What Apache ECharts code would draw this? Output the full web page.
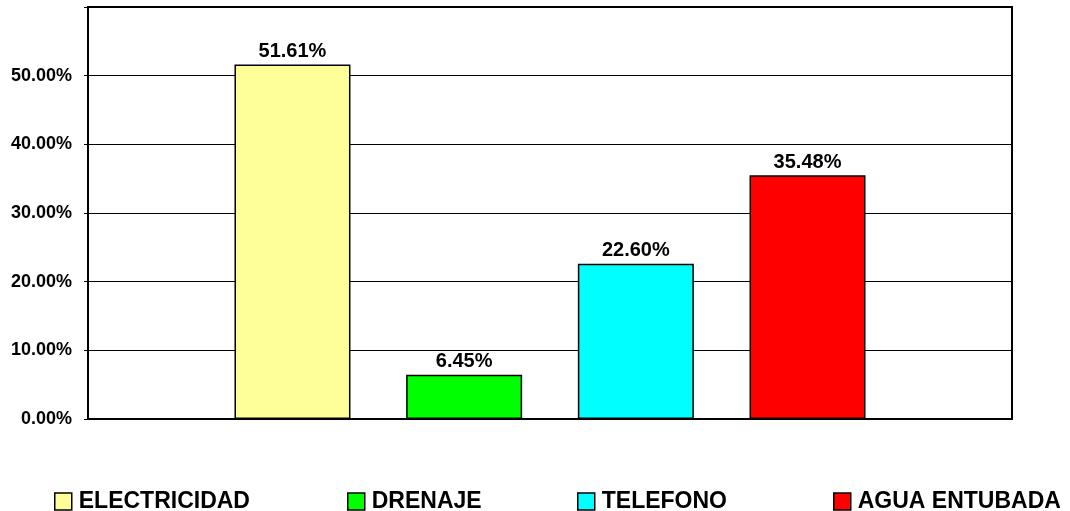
<!DOCTYPE html>
<html>
<head>
<meta charset="utf-8">
<script src="https://cdn.jsdelivr.net/npm/echarts@6/dist/echarts.min.js"></script>
<style>
  html, body { margin: 0; padding: 0; background: #fff; }
  #chart { width: 1070px; height: 511px; }
</style>
</head>
<body>
<div id="chart"></div>
<script>
const names = ["ELECTRICIDAD", "DRENAJE", "TELEFONO", "AGUA ENTUBADA"];
const values = [0.5161, 0.0645, 0.2260, 0.3548];
const colors = ["#FFFF99", "#00FF00", "#00FFFF", "#FF0000"];
const legendLeft = [54, 347, 577, 833];

const font = "Arial, 'Liberation Sans', sans-serif";
const chart = echarts.init(document.getElementById("chart"));

const series = names.map((n, i) => ({
    name: n,
    type: "bar",
    barWidth: 116,
    barGap: "48%",
    data: [values[i]],
    itemStyle: { color: colors[i], borderColor: "#000", borderWidth: 1.5 },
    label: {
        show: true,
        position: "top",
        distance: 3,
        fontFamily: font,
        fontWeight: "bold",
        fontSize: 20,
        color: "#000",
        formatter: p => (p.value * 100).toFixed(2) + "%"
    }
}));

// one legend per item so each sits where the original put it
const legends = names.map((n, i) => ({
    data: [n],
    left: legendLeft[i],
    top: 490,
    padding: 0,
    icon: "rect",
    itemWidth: 17,
    itemHeight: 17,
    selectedMode: false,
    itemStyle: { borderColor: "#000", borderWidth: 1.5 },
    textStyle: { fontFamily: font, fontWeight: "bold", fontSize: 23, color: "#000", lineHeight: 17, padding: [0, 0, 0, 2] }
}));

chart.setOption({
    animation: false,
    grid: {
        left: 88, right: 58, top: 7, bottom: 92,
        show: true, borderColor: "#000", borderWidth: 2
    },
    legend: legends,
    xAxis: {
        type: "category",
        data: [""],
        axisLine: { lineStyle: { color: "#000", width: 2 } },
        axisTick: { show: false },
        axisLabel: { show: false }
    },
    yAxis: {
        type: "value",
        min: 0,
        max: 0.6,
        interval: 0.1,
        axisLine: { show: true, lineStyle: { color: "#000", width: 2 } },
        axisTick: { show: true, length: 4, lineStyle: { color: "#000", width: 1 } },
        splitLine: { lineStyle: { color: "#000", width: 1 } },
        axisLabel: {
            margin: 16,
            fontFamily: font,
            fontWeight: "bold",
            fontSize: 18,
            color: "#000",
            formatter: v => v >= 0.59 ? "" : (v * 100).toFixed(2) + "%"
        }
    },
    series: series
});
</script>
</body>
</html>
